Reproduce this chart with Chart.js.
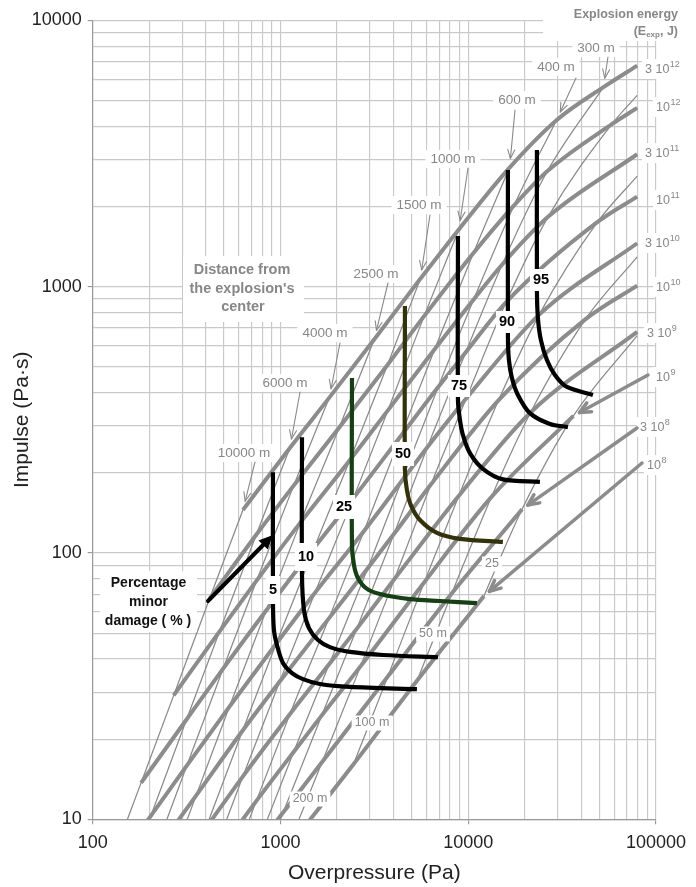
<!DOCTYPE html>
<html>
<head>
<meta charset="utf-8">
<title>Minor damage – pressure/impulse diagram</title>
<script src="https://cdn.jsdelivr.net/npm/chart.js"></script>
<style>
html,body{margin:0;padding:0;background:#ffffff;}
canvas{display:block;}
</style>
</head>
<body>
<canvas id="chart" width="696" height="887"></canvas>
<script>
// ================= DATA =================
// distances of the thin lines (m) – column order of the rows below
const DISTANCES_M = [10000, 6000, 4000, 2500, 1500, 1000, 600, 400, 300, 200, 100, 50, 25];
// explosion energies of the thick curves (J)
const ENERGY_J = [3e12, 1e12, 3e11, 1e11, 3e10, 1e10, 3e9, 1e9, 3e8, 1e8];
const ENERGY_LABELS = [['3 10','12'],['10','12'],['3 10','11'],['10','11'],['3 10','10'],['10','10'],['3 10','9'],['10','9'],['3 10','8'],['10','8']];

// overpressure (Pa) and impulse (Pa·s) of each energy curve at each distance
const P_3E12 = [631, 1122, 1820, 3162, 5559, 8913, 16600, 29510, 52480, null, null, null, null];
const I_3E12 = [145, 248, 383, 635, 1070, 1640, 2799, 4217, 5610, null, null, null, null];
const P_1E12 = [419, 743, 1175, 2056, 3715, 5821, 10640, 17540, 26420, 58210, null, null, null];
const I_1E12 = [67.3, 117, 179, 296, 508, 775, 1335, 2018, 2716, 4074, null, null, null];
const P_3E11 = [270, 474, 746, 1276, 2339, 3733, 6622, 10690, 15170, 26610, null, null, null];
const I_3E11 = [29.2, 50.8, 78.7, 130, 223, 343, 582, 895, 1211, 1828, null, null, null];
const P_1E11 = [181, 316, 494, 839, 1517, 2449, 4375, 6918, 9705, 15890, 48870, null, null];
const I_1E11 = [13.7, 23.7, 36.7, 60.8, 105, 161, 275, 420, 567, 873, 1750, null, null];
const P_3E10 = [117, 204, 317, 535, 948, 1524, 2786, 4395, 6067, 9750, 23880, null, null];
const I_3E10 = [6.01, 10.3, 15.9, 26.5, 45.6, 70.8, 121, 185, 250, 380, 785, null, null];
const P_1E10 = [79.4, 137, 213, 356, 628, 991, 1811, 2917, 4027, 6339, 14520, 42170, null];
const I_1E10 = [2.84, 4.84, 7.45, 12.3, 21.5, 32.9, 56.8, 87.6, 118, 181, 375, 755, null];
const P_3E9  = [52.1, 89.1, 138, 229, 401, 631, 1122, 1820, 2553, 4046, 8913, 21480, null];
const I_3E9  = [1.26, 2.13, 3.27, 5.37, 9.29, 14.5, 24.8, 38.3, 52.0, 79.8, 164, 337, null];
const P_1E9  = [35.5, 60.7, 92.9, 154, 268, 419, 743, 1175, 1656, 2673, 5821, 13270, 36310];
const I_1E9  = [0.598, 1.01, 1.54, 2.52, 4.34, 6.73, 11.7, 17.9, 24.5, 37.6, 77.5, 162, 327];
const P_3E8  = [23.3, 39.8, 61.0, 100, 174, 270, 474, 746, 1033, 1667, 3733, 8185, 19360];
const I_3E8  = [0.265, 0.449, 0.681, 1.11, 1.90, 2.92, 5.08, 7.87, 10.6, 16.4, 34.4, 70.6, 146];
const P_1E8  = [15.8, 27.1, 41.5, 67.9, 117, 181, 316, 494, 682, 1079, 2449, 5346, 12130];
const I_1E8  = [0.126, 0.213, 0.324, 0.525, 0.895, 1.37, 2.37, 3.67, 5.02, 7.69, 16.1, 33.2, 69.0];

// curves stop at this overpressure (right-hand edge of the drawn family)
const EDGE_P = 79400;
const EDGE_I_ENERGY = [6761, 4688, 3141, 2178, 1455, 1009, 676, null, null, null];
const EDGE_I_DIST = [null, null, null, null, null, null, null, null, null, 5224, 2600, 1294, 655];

// percentage of minor damage curves
const DAMAGE_PCT = [5, 10, 25, 50, 75, 90, 95];
const D5_P  = [912, 912, 923, 958, 1031, 1152, 1318, 1623, 2345, 5331];
const D5_I  = [201, 66.5, 51.3, 45.1, 38.6, 35.4, 33.6, 32.2, 31.4, 30.8];
const D10_P = [1302, 1302, 1334, 1418, 1584, 1834, 2345, 3514, 6898];
const D10_I = [272, 82.6, 61.1, 52.2, 47.1, 44.3, 42.5, 41.4, 40.6];
const D25_P = [2403, 2403, 2463, 2586, 2853, 3387, 4893, 7070, 11125];
const D25_I = [454, 107, 90.1, 80.5, 73.8, 70.1, 67.1, 66.0, 64.8];
const D50_P = [4601, 4601, 4716, 4953, 5532, 6812, 9032, 15300];
const D50_I = [846, 205, 172, 151, 133, 119, 113, 110];
const D75_P = [8815, 8815, 9032, 9372, 10212, 11975, 15300, 24090];
const D75_I = [1549, 375, 316, 277, 237, 207, 189, 185];
const D90_P = [16270, 16270, 16470, 17090, 18390, 21300, 27230, 33960];
const D90_I = [2741, 647, 530, 454, 392, 335, 305, 297];
const D95_P = [23220, 23220, 23500, 24380, 26250, 28950, 33540, 46130];
const D95_I = [3258, 971, 762, 630, 530, 466, 420, 392];

// axis tick labels
const X_TICK_LABELS = [100, 1000, 10000, 100000];
const Y_TICK_LABELS = [10, 100, 1000, 10000];

// ================= STYLES / LAYOUT =================
const FONT = '"Liberation Sans", Arial, Helvetica, sans-serif';
const GRAY = '#8c8c8c';
const TXT_GRAY = '#878787';
const GRID = '#c9c9c9';
const DAMAGE_COLORS = ['#000000', '#000000', '#163f16', '#34320c', '#000000', '#000000', '#000000'];

const P_ROWS = [P_3E12, P_1E12, P_3E11, P_1E11, P_3E10, P_1E10, P_3E9, P_1E9, P_3E8, P_1E8];
const I_ROWS = [I_3E12, I_1E12, I_3E11, I_1E11, I_3E10, I_1E10, I_3E9, I_1E9, I_3E8, I_1E8];
const D_P = [D5_P, D10_P, D25_P, D50_P, D75_P, D90_P, D95_P];
const D_I = [D5_I, D10_I, D25_I, D50_I, D75_I, D90_I, D95_I];

function pts(px, py) { return px.map((p, i) => ({x: p, y: py[i]})); }

const datasets = [];
// damage curves (drawn on top)
D_P.forEach((px, k) => {
  datasets.push({
    label: DAMAGE_PCT[k] + ' %', data: pts(px, D_I[k]), showLine: true,
    borderColor: DAMAGE_COLORS[k], borderWidth: 4.2, pointRadius: 0, tension: 0.3,
    borderJoinStyle: 'round', order: 1, clip: 0
  });
});
// energy curves (thick)
P_ROWS.forEach((row, k) => {
  const d = [];
  row.forEach((p, j) => { if (p !== null) d.push({x: p, y: I_ROWS[k][j]}); });
  if (EDGE_I_ENERGY[k] !== null) d.push({x: EDGE_P, y: EDGE_I_ENERGY[k]});
  datasets.push({
    label: 'E ' + ENERGY_J[k], data: d, showLine: true, borderColor: GRAY, borderWidth: 4,
    pointRadius: 0, cubicInterpolationMode: 'monotone', borderJoinStyle: 'round', order: 2, clip: 0
  });
});
// distance lines (thin)
DISTANCES_M.forEach((dist, j) => {
  const d = [];
  for (let k = ENERGY_J.length - 1; k >= 0; k--) {
    const p = P_ROWS[k][j];
    if (p !== null) d.push({x: p, y: I_ROWS[k][j]});
  }
  if (EDGE_I_DIST[j] !== null) d.push({x: EDGE_P, y: EDGE_I_DIST[j]});
  datasets.push({
    label: dist + ' m', data: d, showLine: true, borderColor: '#8a8a8a', borderWidth: 1.25,
    pointRadius: 0, cubicInterpolationMode: 'monotone', order: 3, clip: 0
  });
});

function logGrid(min, max) {
  const out = [];
  for (let e = Math.round(Math.log10(min)); e < Math.round(Math.log10(max)); e++)
    for (let k = 1; k < 10; k++) out.push(Math.round(k * Math.pow(10, e)));
  out.push(max);
  return out;
}

// ---------- annotation layout (pixels) ----------
const TOP_LABELS = [
  {t: '300 m', cx: 596, cy: 48, ax: 608, ay: 57, d: 300},
  {t: '400 m', cx: 556, cy: 67, ax: 576, ay: 78, d: 400},
  {t: '600 m', cx: 517, cy: 100, ax: 515, ay: 110, d: 600},
  {t: '1000 m', cx: 453, cy: 159, ax: 468, ay: 168, d: 1000},
  {t: '1500 m', cx: 419, cy: 205, ax: 430, ay: 215, d: 1500},
  {t: '2500 m', cx: 376, cy: 274, ax: 388, ay: 283, d: 2500},
  {t: '4000 m', cx: 325, cy: 333, ax: 340, ay: 343, d: 4000},
  {t: '6000 m', cx: 285, cy: 383, ax: 300, ay: 392, d: 6000},
  {t: '10000 m', cx: 244, cy: 453, ax: 255, ay: 462, d: 10000}
];
const INLINE_LABELS = [
  {t: '25', cx: 492, cy: 564}, {t: '50 m', cx: 433, cy: 634},
  {t: '100 m', cx: 372, cy: 723}, {t: '200 m', cx: 310, cy: 799}
];
const DAMAGE_LABEL_POS = [[273, 590, 28], [306, 557, 28], [344, 507, 24], [403, 454, 24], [459, 386, 22], [507, 322, 22], [541, 280, 22]];
const ENERGY_LABEL_POS = [[645, 69], [656, 107], [645, 153], [656, 200], [645, 243], [656, 287], [647, 333], [656, 377], [640, 427], [647, 465]];
const ENERGY_ARROWS = [{k: 7, sx: 648, sy: 375}, {k: 8, sx: 637, sy: 428}, {k: 9, sx: 642, sy: 463}];

function whiteRect(ctx, x, y, w, h) { ctx.fillStyle = '#ffffff'; ctx.fillRect(x, y, w, h); }
function txt(ctx, s, x, y, font, color, align) {
  ctx.font = font; ctx.fillStyle = color; ctx.textAlign = align || 'center'; ctx.textBaseline = 'middle';
  ctx.fillText(s, x, y);
}
function boxedText(ctx, s, cx, cy, font, color, padX, h) {
  ctx.font = font;
  const w = ctx.measureText(s).width + 2 * padX;
  whiteRect(ctx, cx - w / 2, cy - h / 2, w, h);
  txt(ctx, s, cx, cy, font, color, 'center');
}
function arrow(ctx, x0, y0, x1, y1, shorten, color, width, head, headW, filled) {
  const dx = x1 - x0, dy = y1 - y0, L = Math.hypot(dx, dy);
  const ux = dx / L, uy = dy / L;
  const tx = x1 - ux * shorten, ty = y1 - uy * shorten;
  ctx.strokeStyle = color; ctx.fillStyle = color; ctx.lineWidth = width; ctx.lineCap = 'round'; ctx.lineJoin = 'round';
  const bx = tx - ux * head, by = ty - uy * head;
  const nx = -uy, ny = ux;
  ctx.beginPath(); ctx.moveTo(x0, y0);
  ctx.lineTo(filled ? bx : tx, filled ? by : ty); ctx.stroke();
  ctx.beginPath();
  ctx.moveTo(bx + nx * headW, by + ny * headW); ctx.lineTo(tx, ty); ctx.lineTo(bx - nx * headW, by - ny * headW);
  if (filled) { ctx.closePath(); ctx.fill(); } else { ctx.stroke(); }
}

const annotations = {
  id: 'annotations',
  afterDatasetsDraw(chart) {
    const ctx = chart.ctx;
    ctx.save();
    // white label panels that hide the grid
    whiteRect(ctx, 543, 0, 153, 41);
    whiteRect(ctx, 183, 256, 121, 66);
    whiteRect(ctx, 100, 571, 97, 61);

    // header
    txt(ctx, 'Explosion energy', 678, 15, 'bold 12.5px ' + FONT, TXT_GRAY, 'right');
    ctx.font = 'bold 12.5px ' + FONT;
    const a = ctx.measureText('(E').width, c = ctx.measureText(', J)').width;
    ctx.font = 'bold 8px ' + FONT;
    const b = ctx.measureText('exp').width;
    let x0 = 678 - (a + b + c);
    txt(ctx, '(E', x0, 32, 'bold 12.5px ' + FONT, TXT_GRAY, 'left');
    txt(ctx, 'exp', x0 + a, 35, 'bold 8px ' + FONT, TXT_GRAY, 'left');
    txt(ctx, ', J)', x0 + a + b, 32, 'bold 12.5px ' + FONT, TXT_GRAY, 'left');

    // distance title
    const bf = 'bold 14.5px ' + FONT;
    txt(ctx, 'Distance from', 242, 270, bf, TXT_GRAY);
    txt(ctx, "the explosion's", 242, 289, bf, TXT_GRAY);
    txt(ctx, 'center', 243, 307, bf, TXT_GRAY);

    // percentage title
    const pf = 'bold 14px ' + FONT;
    txt(ctx, 'Percentage', 148.5, 583, pf, '#111');
    txt(ctx, 'minor', 148.5, 602, pf, '#111');
    txt(ctx, 'damage ( % )', 148, 621, pf, '#111');

    // distance labels at the top envelope
    TOP_LABELS.forEach(l => boxedText(ctx, l.t, l.cx, l.cy, '13.5px ' + FONT, TXT_GRAY, 5, 18));
    // inline distance labels
    INLINE_LABELS.forEach(l => boxedText(ctx, l.t, l.cx, l.cy, '12.5px ' + FONT, TXT_GRAY, 3, 15));
    // damage labels
    DAMAGE_LABEL_POS.forEach((p, k) => boxedText(ctx, String(DAMAGE_PCT[k]), p[0], p[1], 'bold 14.5px ' + FONT, '#000', 3, p[2]));

    // energy labels
    ENERGY_LABEL_POS.forEach((p, k) => {
      const [base, sup] = ENERGY_LABELS[k];
      ctx.font = '12.5px ' + FONT; const wb = ctx.measureText(base).width;
      ctx.font = '9px ' + FONT; const ws = ctx.measureText(sup).width;
      whiteRect(ctx, p[0] - 3, p[1] - 10, wb + ws + 7, 20);
      txt(ctx, base, p[0], p[1] + 1, '12.5px ' + FONT, TXT_GRAY, 'left');
      txt(ctx, sup, p[0] + wb + 0.5, p[1] - 4, '9px ' + FONT, TXT_GRAY, 'left');
    });
    ctx.restore();
  },
  afterDraw(chart) {
    const ctx = chart.ctx, xs = chart.scales.x, ys = chart.scales.y;
    ctx.save();
    // thin arrows from distance labels to the top envelope
    TOP_LABELS.forEach(l => {
      const j = DISTANCES_M.indexOf(l.d);
      const tx = xs.getPixelForValue(P_3E12[j]), ty = ys.getPixelForValue(I_3E12[j]);
      arrow(ctx, l.ax, l.ay, tx, ty, 9, '#8a8a8a', 1.1, 9, 3.5, false);
    });
    // thick arrows to the ends of the low-energy curves
    ENERGY_ARROWS.forEach(a => {
      const row = P_ROWS[a.k]; const j = row.length - 1;
      const tx = xs.getPixelForValue(row[j]), ty = ys.getPixelForValue(I_ROWS[a.k][j]);
      arrow(ctx, a.sx, a.sy, tx, ty, 7, GRAY, 3.5, 11, 5, false);
    });
    // black arrow of the "Percentage minor damage" note
    arrow(ctx, 208, 601, xs.getPixelForValue(D5_P[0]), 535, 0, '#000', 4, 14, 6.5, true);
    ctx.restore();
  }
};

const isMajor = v => [1, 10, 100, 1000, 10000, 100000].includes(v);

new Chart(document.getElementById('chart'), {
  type: 'scatter',
  data: {datasets},
  options: {
    responsive: false, animation: false, devicePixelRatio: 1,
    layout: {padding: {left: 0, right: 40, top: 20.3, bottom: 0}},
    plugins: {legend: {display: false}, tooltip: {enabled: false}},
    scales: {
      x: {
        type: 'logarithmic', min: 100, max: 100000,
        afterBuildTicks: s => { s.ticks = logGrid(100, 100000).map(v => ({value: v, major: isMajor(v)})); },
        afterFit: s => { s.height = 67.7; },
        ticks: {autoSkip: false, maxRotation: 0, padding: 8, color: '#222', font: {family: FONT, size: 18},
                callback: v => X_TICK_LABELS.includes(v) ? String(v) : ''},
        grid: {color: GRID, lineWidth: 1.15, tickLength: 5,
               tickColor: c => (c.tick && X_TICK_LABELS.includes(c.tick.value)) ? '#999' : 'rgba(0,0,0,0)'},
        border: {color: '#9a9a9a', width: 1.2},
        title: {display: true, text: 'Overpressure (Pa)', color: '#222', font: {family: FONT, size: 21}, padding: {top: 0, bottom: 1.4}}
      },
      y: {
        type: 'logarithmic', min: 10, max: 10000,
        afterBuildTicks: s => { s.ticks = logGrid(10, 10000).map(v => ({value: v, major: isMajor(v)})); },
        afterFit: s => { s.width = 92.7; },
        ticks: {autoSkip: false, padding: 6, color: '#222', font: {family: FONT, size: 18},
                callback: v => Y_TICK_LABELS.includes(v) ? String(v) : ''},
        grid: {color: GRID, lineWidth: 1.15, tickLength: 5,
               tickColor: c => (c.tick && Y_TICK_LABELS.includes(c.tick.value)) ? '#999' : 'rgba(0,0,0,0)'},
        border: {color: '#9a9a9a', width: 1.2},
        title: {display: true, text: 'Impulse (Pa·s)', color: '#222', font: {family: FONT, size: 21}, padding: {top: 9.4, bottom: 0}}
      }
    }
  },
  plugins: [annotations]
});
</script>
</body>
</html>
